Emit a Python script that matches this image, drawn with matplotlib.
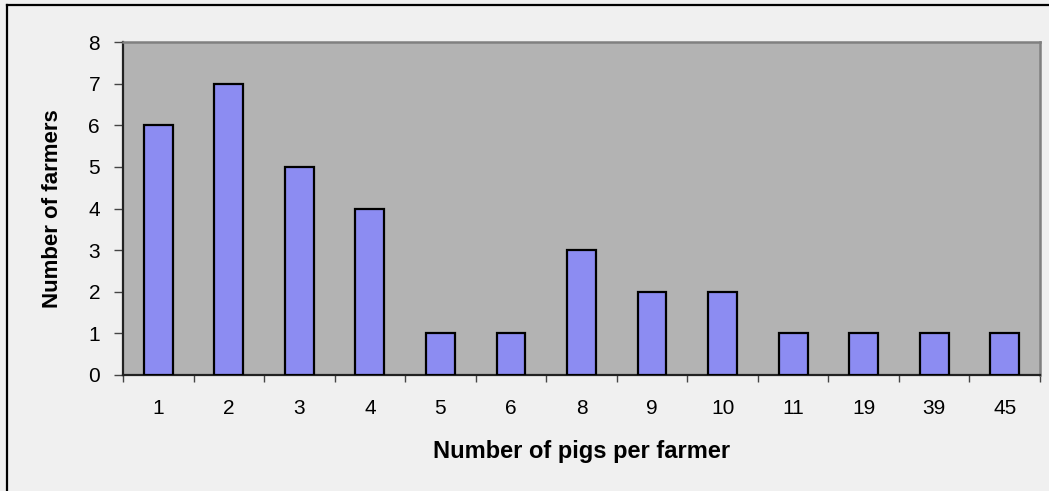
import matplotlib
matplotlib.use("Agg")
import matplotlib.pyplot as plt
from matplotlib.lines import Line2D
import numpy as np

# Pigs owned per farmer (category) and how many farmers fall in each
pigs_per_farmer = ["1", "2", "3", "4", "5", "6", "8", "9", "10", "11", "19", "39", "45"]
farmer_counts = [6, 7, 5, 4, 1, 1, 3, 2, 2, 1, 1, 1, 1]
y_ticks = [0, 1, 2, 3, 4, 5, 6, 7, 8]

plt.rcParams["font.family"] = ["Liberation Sans", "DejaVu Sans"]

W, H = 1049, 491
fig = plt.figure(figsize=(W / 100, H / 100), dpi=100, facecolor="#F0F0F0")

# Chart-area frame (only top and left edges fall inside the image)
fig.add_artist(Line2D([6.5 / W, 6.5 / W], [0, 1 - 4.5 / H], transform=fig.transFigure,
                      color="black", lw=1.6))
fig.add_artist(Line2D([6.5 / W, 1], [1 - 4.5 / H, 1 - 4.5 / H], transform=fig.transFigure,
                      color="black", lw=1.6))

left, right, top, bottom = 123, 1040, 42, 375
ax = fig.add_axes([left / W, (H - bottom) / H, (right - left) / W, (bottom - top) / H])
ax.set_facecolor("#B3B3B3")

x = np.arange(len(pigs_per_farmer))
ax.bar(x, farmer_counts, width=0.41, color="#8C8CF2", edgecolor="black", linewidth=1.6, zorder=3)

ax.set_xlim(-0.5, len(pigs_per_farmer) - 0.5)
ax.set_ylim(0, 8)

# Spines
ax.spines["left"].set_color("#222222")
ax.spines["left"].set_linewidth(1.6)
ax.spines["bottom"].set_color("#222222")
ax.spines["bottom"].set_linewidth(1.6)
for s in ("top", "right"):
    ax.spines[s].set_color("#808080")
    ax.spines[s].set_linewidth(1.8)

# Y axis ticks
ax.set_yticks(y_ticks)
ax.set_yticklabels([str(v) for v in y_ticks], fontsize=15)
ax.tick_params(axis="y", direction="out", length=6.5, width=1.0, color="#444444", pad=10)

# X axis: tick marks at category boundaries, labels at category centres
ax.set_xticks(np.arange(len(pigs_per_farmer) + 1) - 0.5)
ax.set_xticklabels([])
ax.tick_params(axis="x", which="major", direction="out", length=5, width=1.0, color="#444444")
ax.set_xticks(x, minor=True)
ax.set_xticklabels(pigs_per_farmer, minor=True, fontsize=15)
ax.tick_params(axis="x", which="minor", length=0, pad=17)

ax.set_ylabel("Number of farmers", fontsize=16, fontweight="bold")
ax.yaxis.set_label_coords(-0.065, 0.5)
ax.set_xlabel("Number of pigs per farmer", fontsize=17, fontweight="bold")
ax.xaxis.set_label_coords(0.5, -0.195)

fig.savefig("out.png", dpi=100, facecolor=fig.get_facecolor())
